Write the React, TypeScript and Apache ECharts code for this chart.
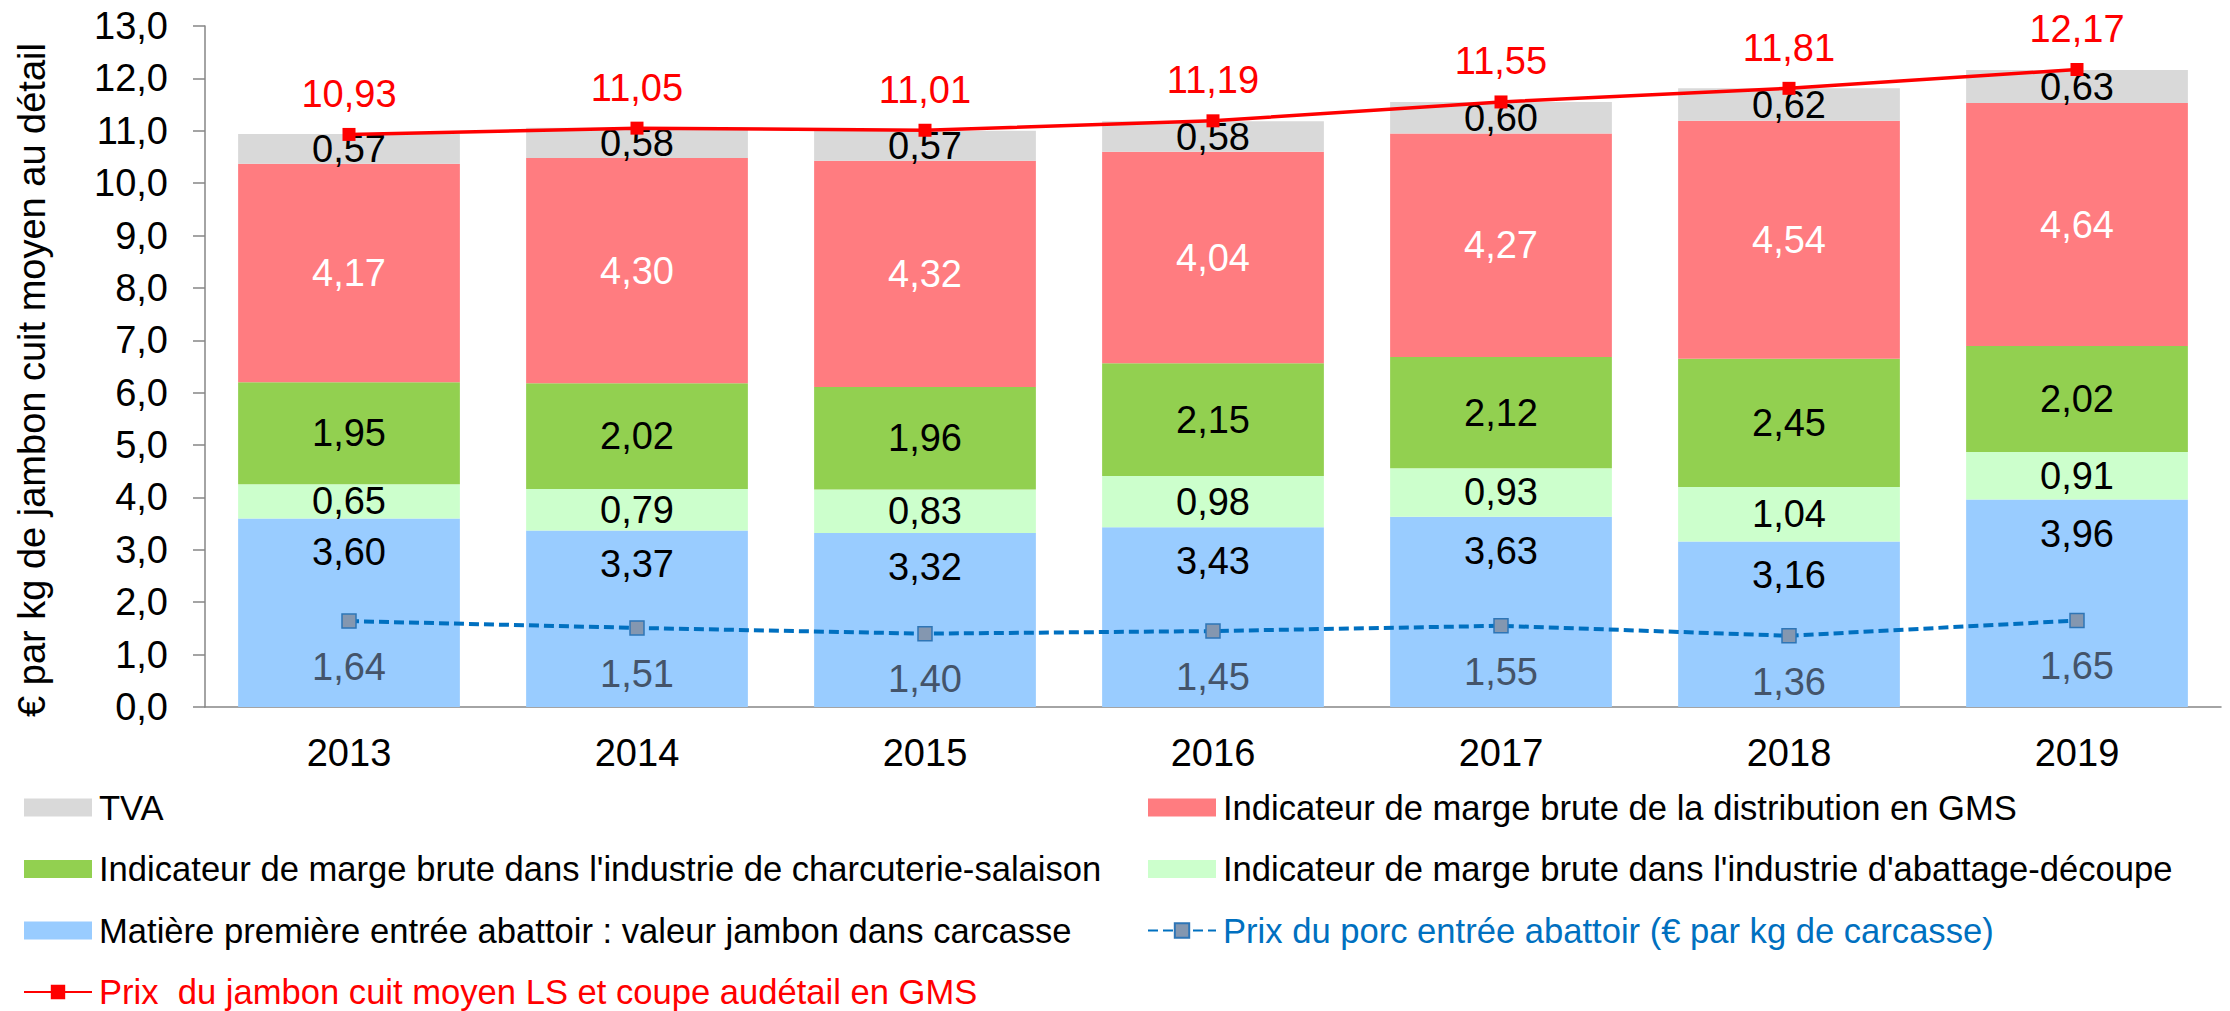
import React, { useEffect, useRef } from 'react';
import * as echarts from 'echarts';

const years = ['2013', '2014', '2015', '2016', '2017', '2018', '2019'];
const matiere = [3.6, 3.37, 3.32, 3.43, 3.63, 3.16, 3.96];
const abattage = [0.65, 0.79, 0.83, 0.98, 0.93, 1.04, 0.91];
const charcuterie = [1.95, 2.02, 1.96, 2.15, 2.12, 2.45, 2.02];
const distribution = [4.17, 4.3, 4.32, 4.04, 4.27, 4.54, 4.64];
const tva = [0.57, 0.58, 0.57, 0.58, 0.6, 0.62, 0.63];
const prixJambon = [10.93, 11.05, 11.01, 11.19, 11.55, 11.81, 12.17];
const prixPorc = [1.64, 1.51, 1.4, 1.45, 1.55, 1.36, 1.65];

const N_TVA = 'TVA';
const N_DIST = 'Indicateur de marge brute de la distribution en GMS';
const N_CHARC = "Indicateur de marge brute dans l'industrie de charcuterie-salaison";
const N_ABAT = "Indicateur de marge brute dans l'industrie d'abattage-découpe";
const N_MAT = 'Matière première entrée abattoir : valeur jambon dans carcasse';
const N_PORC = 'Prix du porc entrée abattoir (€ par kg de carcasse)';
const N_JAMB = 'Prix  du jambon cuit moyen LS et coupe audétail en GMS';
const Y_TITLE = '€ par kg de jambon cuit moyen au détail';

const FONT = '"Liberation Sans", Arial, sans-serif';
const fmt2 = (v: number) => v.toFixed(2).replace('.', ',');
const fmt1 = (v: number) => v.toFixed(1).replace('.', ',');

export default function App() {
  const ref = useRef<HTMLDivElement>(null);
  useEffect(() => {
    if (!ref.current) return;
    const chart = echarts.init(ref.current, undefined, { renderer: 'svg' });
    const barLabel = (color: string, extra: any = {}) => ({
      show: true,
      color,
      fontSize: 38,
      fontFamily: FONT,
      formatter: (p: any) => fmt2(p.value),
      ...extra,
    });
    const legendText = {
      fontSize: 34.6,
      fontFamily: FONT,
      color: '#000',
      lineHeight: 34,
      padding: [0, 0, 0, 2],
    };
    chart.setOption({
      animation: false,
      backgroundColor: '#fff',
      textStyle: { fontFamily: FONT },
      grid: { left: 205, right: 9, top: 26, bottom: 304, containLabel: false },
      xAxis: {
        type: 'category',
        data: years,
        axisLine: { show: true, lineStyle: { color: '#868686', width: 1.5 } },
        axisTick: { show: false },
        axisLabel: { color: '#000', fontSize: 38, fontFamily: FONT, margin: 27 },
      },
      yAxis: {
        type: 'value',
        min: 0,
        max: 13,
        interval: 1,
        splitLine: { show: false },
        axisLine: { show: true, lineStyle: { color: '#868686', width: 1.5 } },
        axisTick: { show: true, length: 12, lineStyle: { color: '#868686', width: 1.5 } },
        axisLabel: {
          color: '#000',
          fontSize: 38,
          fontFamily: FONT,
          margin: 37,
          formatter: (v: number) => fmt1(v),
        },
      },
      legend: [
        {
          orient: 'vertical',
          left: 23,
          top: 790,
          padding: 0,
          itemWidth: 68,
          itemHeight: 18,
          itemGap: 26.5,
          textStyle: legendText,
          data: [
            { name: N_TVA, icon: 'rect' },
            { name: N_CHARC, icon: 'rect' },
            { name: N_MAT, icon: 'rect' },
            { name: N_JAMB, textStyle: { color: '#FF0000' } },
          ],
        },
        {
          orient: 'vertical',
          left: 1147,
          top: 790,
          padding: 0,
          itemWidth: 68,
          itemHeight: 18,
          itemGap: 26.5,
          textStyle: legendText,
          data: [
            { name: N_DIST, icon: 'rect' },
            { name: N_ABAT, icon: 'rect' },
            { name: N_PORC, textStyle: { color: '#0070C0' } },
          ],
        },
      ],
      graphic: [
        {
          type: 'text',
          x: 32,
          y: 380,
          rotation: Math.PI / 2,
          style: {
            text: Y_TITLE,
            fontSize: 38,
            fontFamily: FONT,
            fill: '#000',
            textAlign: 'center',
            textVerticalAlign: 'middle',
          },
        },
      ],
      series: [
        {
          name: N_MAT,
          type: 'bar',
          stack: 'total',
          barWidth: '77%',
          data: matiere,
          itemStyle: { color: '#99CCFF' },
          label: barLabel('#000', { position: 'insideTop', distance: 15 }),
        },
        {
          name: N_ABAT,
          type: 'bar',
          stack: 'total',
          data: abattage,
          itemStyle: { color: '#CCFFCC' },
          label: barLabel('#000', { position: 'inside' }),
        },
        {
          name: N_CHARC,
          type: 'bar',
          stack: 'total',
          data: charcuterie,
          itemStyle: { color: '#92D050' },
          label: barLabel('#000', { position: 'inside' }),
        },
        {
          name: N_DIST,
          type: 'bar',
          stack: 'total',
          data: distribution,
          itemStyle: { color: '#FF7C80' },
          label: barLabel('#FFFFFF', { position: 'inside' }),
        },
        {
          name: N_TVA,
          type: 'bar',
          stack: 'total',
          data: tva,
          itemStyle: { color: '#D9D9D9' },
          label: barLabel('#000', { position: 'inside' }),
        },
        {
          name: N_PORC,
          type: 'line',
          data: prixPorc,
          z: 5,
          symbol: 'rect',
          symbolSize: 14,
          lineStyle: { color: '#0070C0', width: 4, type: [10, 5] },
          itemStyle: { color: '#8497B0', borderColor: '#2E75B6', borderWidth: 1.5 },
          label: {
            show: true,
            position: 'bottom',
            distance: 19,
            color: '#44546A',
            fontSize: 38,
            fontFamily: FONT,
            formatter: (p: any) => fmt2(p.value),
          },
        },
        {
          name: N_JAMB,
          type: 'line',
          data: prixJambon,
          z: 6,
          symbol: 'rect',
          symbolSize: 13,
          lineStyle: { color: '#FF0000', width: 3.5 },
          itemStyle: { color: '#FF0000' },
          label: {
            show: true,
            position: 'top',
            distance: 15,
            color: '#FF0000',
            fontSize: 38,
            fontFamily: FONT,
            formatter: (p: any) => fmt2(p.value),
          },
        },
      ],
    });
    return () => chart.dispose();
  }, []);
  return (
    <div
      ref={ref}
      style={{ position: 'absolute', left: 0, top: 0, width: 2230, height: 1011 }}
    />
  );
}
